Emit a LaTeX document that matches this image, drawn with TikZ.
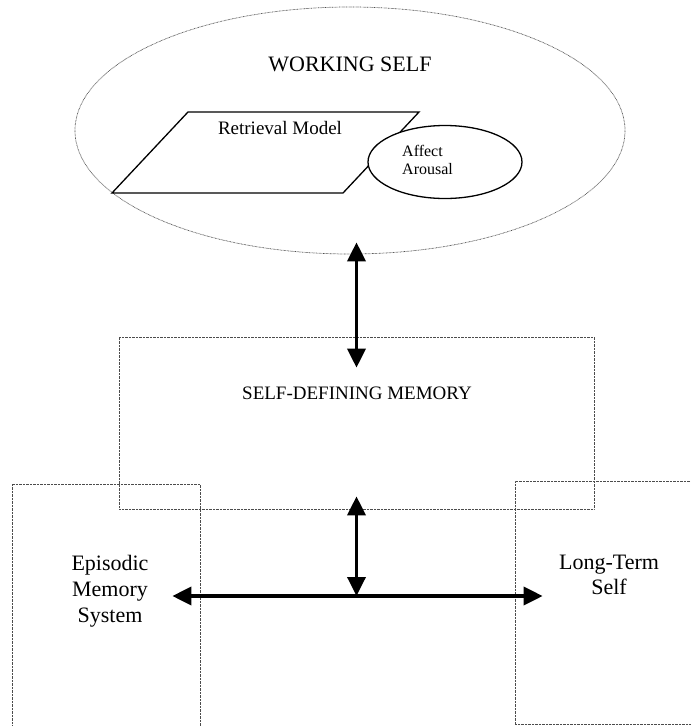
\documentclass[tikz,border=0pt]{standalone}
\usepackage{fontspec}
\setmainfont{Liberation Serif}
\usetikzlibrary{shapes.geometric}
\usetikzlibrary{arrows.meta}
\tikzset{
  dotline/.style={draw=black!70, line width=0.7pt, dash pattern=on 0.7pt off 0.7pt},
  dotbox/.style={dotline, shape=rectangle, inner sep=0pt},
  solidline/.style={draw=black, line width=1.3pt},
  bigarrow/.style={line width=3.5pt, {Triangle[length=19pt,width=18pt]}-{Triangle[length=19pt,width=18pt]}},
  lbl/.style={inner sep=0pt, align=center}
}

\begin{document}
\begin{tikzpicture}[x=1pt,y=-1pt]
\clip (0,0) rectangle (691,726);
% working self
\node[dotline, shape=ellipse, minimum width=550pt, minimum height=247pt, inner sep=0pt] (ws) at (350,130.5) {};
\node[lbl, font=\fontsize{22}{26}\selectfont] (wstext) at (350,64) {WORKING SELF};
% retrieval model and affect
\draw[solidline] (112,193) -- (188,112) -- (419,112) -- (343,193) -- cycle;
\node[lbl, font=\fontsize{19}{22}\selectfont] (rmtext) at (280,128) {Retrieval Model};
\node[solidline, fill=white, shape=ellipse, minimum width=154pt, minimum height=73pt, inner sep=0pt] (aff) at (445,162) {};
\node[lbl, align=left, anchor=west, font=\fontsize{16}{18}\selectfont] (afftext) at (402,160) {Affect\\Arousal};
% boxes
\node[dotbox, minimum width=475pt, minimum height=172pt] (sdm) at (356.5,423) {};
\node[dotbox, minimum width=188pt, minimum height=250pt] (ems) at (106,609) {};
\node[dotbox, minimum width=190pt, minimum height=243pt] (lts) at (610,602.5) {};
% box labels
\node[lbl, font=\fontsize{19}{22}\selectfont] (sdmtext) at (357,393) {SELF-DEFINING MEMORY};
\node[lbl, font=\fontsize{22}{26}\selectfont] (emstext) at (110,591) {Episodic\\Memory\\System};
\node[lbl, font=\fontsize{22}{25}\selectfont] (ltstext) at (609,575) {Long-Term\\Self};
% arrows
\coordinate (hub) at (356.5,596);
\draw[bigarrow, shorten <=-12pt, shorten >=-31pt] (ws.south -| sdm.north) -- (sdm.north);
\draw[bigarrow, shorten <=-13pt] (sdm.south) -- (hub);
\draw[bigarrow, shorten <=-28pt, shorten >=-28pt] (ems.east |- hub) -- (lts.west |- hub);
\end{tikzpicture}
\end{document}
